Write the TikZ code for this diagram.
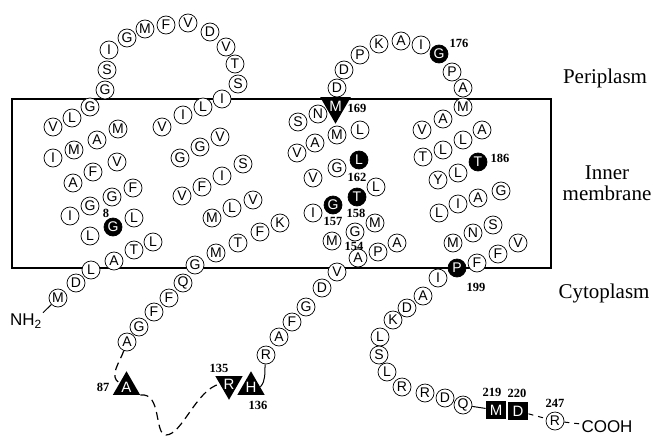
\documentclass[tikz,border=0pt]{standalone}
\usepackage{fontspec}
\setmainfont{Liberation Serif}
\setsansfont{Liberation Sans}
\usepackage{tikz}
\usetikzlibrary{shapes.geometric}
\usetikzlibrary{positioning}

\tikzset{
  res/.style={draw, circle, line width=0.7pt, fill=white, minimum size=18pt, inner sep=0pt, font=\sffamily\fontsize{14}{14}\selectfont},
  hot/.style={res, fill=black, text=white},
  tri up/.style={regular polygon, regular polygon sides=3, fill=black, text=white, minimum size=31.5pt, inner sep=0pt, font=\sffamily\fontsize{15}{15}\selectfont},
  tri down/.style={tri up, shape border rotate=180},
  sqres/.style={fill=black, text=white, minimum width=20.5pt, minimum height=18pt, inner sep=0pt, font=\sffamily\fontsize{15}{15}\selectfont},
  num/.style={font=\bfseries\fontsize{12.5}{12.5}\selectfont, inner sep=0pt},
  zone/.style={font=\fontsize{21}{21}\selectfont, align=center},
  ends/.style={font=\sffamily\fontsize{17}{17}\selectfont, inner sep=1pt},
  loopline/.style={dash pattern=on 8pt off 5pt, line width=1.2pt},
  gapline/.style={dash pattern=on 5pt off 5pt, line width=1pt},
}

\begin{document}
\begin{tikzpicture}[x=1pt, y=-1pt]
\useasboundingbox (0,0) rectangle (655,439);
% Membrane (box)
\draw[line width=2.8pt] (12,99) rectangle (551,268);
% Compartment names
\node[zone] (peri) at (605,78) {Periplasm};
\node[zone] (inner) at (607,183) {Inner\\membrane};
\node[zone] (cyto) at (604,293) {Cytoplasm};

% N-terminus
\node[ends] (nh2) at (26,321) {NH\textsubscript{2}};
\node[res] (m1) at (58,298) {M};
\draw[line width=1pt] (nh2.north east) -- (m1);
% Helix 1
\foreach \x/\y/\r [count=\i] in {76/283/D, 91/270/L, 114/261/A, 134/250/T, 153/242/L,
    134/218/L, 90/236/L, 70/216/I, 90/206/G, 112/197/G, 133/188/F, 117/162/V,
    93/172/F, 73/183/A, 53/158/I, 74/150/M, 97/140/A, 118/129/M, 53/127/V,
    72/118/L, 90/107/G, 105/90/G}
  \node[res] (hA-\i) at (\x,\y) {\r};
\node[hot] (g8) at (113,227) {G};
\node[num] (lab8) at (106,213) {8};
% Periplasmic loop 1
\foreach \x/\y/\r [count=\i] in {107/70/S, 109/50/I, 127/38/G, 145/29/M, 166/25/F,
    188/23/V, 210/32/D, 226/47/V, 235/64/T, 238/84/S, 222/99/I, 203/107/L,
    183/115/I, 162/127/V}
  \node[res] (pA-\i) at (\x,\y) {\r};
% Helix 2
\foreach \x/\y/\r [count=\i] in {180/158/G, 200/147/G, 220/137/V, 243/164/S,
    222/176/I, 202/187/F, 182/196/V, 212/218/M, 232/208/L, 253/200/V,
    280/223/K, 260/232/F, 238/243/T, 216/253/M, 195/265/G, 183/283/Q,
    169/298/F, 154/312/F, 139/327/G}
  \node[res] (hB-\i) at (\x,\y) {\r};
\node[res] (a86) at (127,342) {A};

% Cytoplasmic loop
\node[tri up] (a87) at (126.5,387) {A};
\node[num] (lab87) at (103,387) {87};
\node[tri down] (r135) at (229,384) {R};
\node[tri up] (h136) at (251,387) {H};
\node[num] (lab135) at (219,368) {135};
\node[num] (lab136) at (258,405) {136};
\coordinate (dip) at (166,435);
\draw[loopline] (a86) to[out=250,in=150] (a87);
\draw[loopline] (a87.corner 3) .. controls (162,392) and (154,435) .. (dip)
  .. controls (182,435) and (196,390) .. (r135.west);
\node[res] (r137) at (266,355) {R};
\draw[line width=1pt] (h136.east) to[out=50,in=-95] (r137);

% Helix 3
\foreach \x/\y/\r [count=\i] in {279/337/A, 292/322/F, 306/307/G, 322/288/D,
    337/272/V, 358/258/A, 378/252/P, 397/243/A, 375/223/M, 355/232/G,
    332/241/M, 313/213/I, 376/187/L, 337/168/G, 313/178/V, 297/153/V,
    315/143/A, 337/135/M, 360/130/L, 298/122/S, 318/114/N}
  \node[res] (hC-\i) at (\x,\y) {\r};
\node[hot] (g157) at (333,205) {G};
\node[hot] (t158) at (357,197) {T};
\node[hot] (l162) at (359,160) {L};
\node[num] (lab154) at (354,246) {154};
\node[num] (lab157) at (333,221) {157};
\node[num] (lab158) at (356,213) {158};
\node[num] (lab162) at (357,177) {162};

% Periplasmic loop 2
\foreach \x/\y/\r [count=\i] in {337/88/D, 344/70/D, 360/55/P, 379/44/K,
    401/41/A, 421/45/I, 452/72/P, 463/88/A, 463/107/M}
  \node[res] (pB-\i) at (\x,\y) {\r};
\node[tri down] (m169) at (335.5,106) {M};
\node[num] (lab169) at (357,108) {169};
\node[hot] (g176) at (439,54) {G};
\node[num] (lab176) at (459,43) {176};

% Helix 4
\foreach \x/\y/\r [count=\i] in {443/119/A, 422/130/V, 423/157/T, 443/150/L,
    463/140/L, 482/130/A, 458/173/L, 438/180/Y, 439/213/L, 458/204/I,
    478/198/A, 501/191/G, 493/225/S, 473/233/N, 453/243/M, 518/243/V,
    498/254/F, 477/263/F}
  \node[res] (hD-\i) at (\x,\y) {\r};
\node[hot] (t186) at (478,162) {T};
\node[num] (lab186) at (500,158) {186};
\node[hot] (p199) at (457,268) {P};
\node[num] (lab199) at (476,287) {199};

% C-terminal tail
\foreach \x/\y/\r [count=\i] in {438/278/I, 423/296/A, 407/308/D, 393/320/K,
    380/337/L, 379/355/S, 387/372/L, 402/387/R, 425/393/R, 445/398/D}
  \node[res] (cC-\i) at (\x,\y) {\r};
\node[res] (q218) at (463,405) {Q};
\node[sqres] (m219) at (496,410) {M};
\node[sqres] (d220) at (518,411) {D};
\node[num] (lab219) at (492,392) {219};
\node[num] (lab220) at (517,393) {220};
\draw[line width=1pt] (q218) -- (m219);
\node[res] (r247) at (555,421) {R};
\node[num] (lab247) at (555,403) {247};
\draw[gapline] (d220) -- (r247);
\node[ends] (cooh) at (607,427) {COOH};
\draw[gapline] (r247) -- (cooh);
\end{tikzpicture}
\end{document}
